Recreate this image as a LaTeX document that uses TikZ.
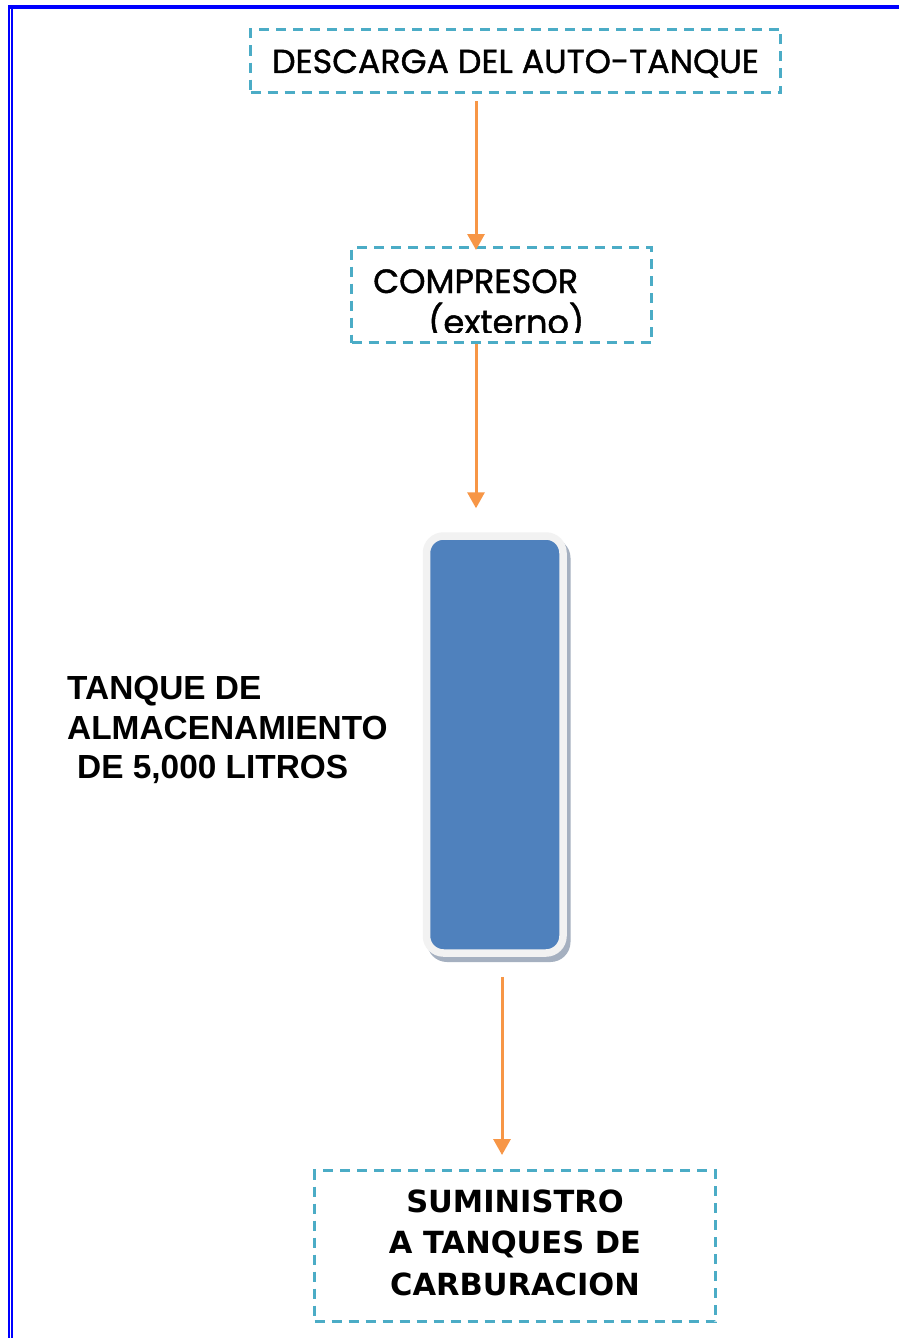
\documentclass[tikz,border=0pt]{standalone}
\usepackage{fontspec}
\usetikzlibrary{arrows.meta}
\newfontfamily\gothic{Poppins}[FakeBold=1.3]
\newfontfamily\arialf{Liberation Sans}
\newfontfamily\verd{DejaVu Sans}
\definecolor{dashc}{RGB}{75,172,198}
\definecolor{arrc}{RGB}{247,150,70}
\definecolor{tankc}{RGB}{79,129,189}
\definecolor{framec}{RGB}{242,242,242}
\definecolor{shadc}{RGB}{165,176,192}
\definecolor{borderc}{RGB}{0,0,255}
\begin{document}
\begin{tikzpicture}[x=1pt,y=-1pt,
  dbox/.style={draw=dashc, line width=3pt, dash pattern=on 10pt off 7pt, inner sep=0pt},
  arr/.style={draw=arrc, line width=3pt, -{Triangle[width=17pt,length=16pt]}},
  txt/.style={inner sep=0pt}]
\useasboundingbox (0,0) rectangle (899,1338);
\fill[white] (0,0) rectangle (899,1338);
% page border
\fill[borderc] (8,5) rectangle (899,9);
\fill[borderc] (8,5) rectangle (10,1338);
\fill[borderc] (11,9) rectangle (13,1338);
% boxes
\node[dbox, minimum width=530pt, minimum height=63pt, text height=24pt, text depth=0pt,
      font=\gothic\fontsize{33.3}{38}\selectfont] (desc) at (515.5,61) {DESCARGA DEL AUTO-TANQUE};
\node[dbox, minimum width=300pt, minimum height=95pt] (comp) at (501.5,295) {};
\begin{scope}
  \clip (330,240) rectangle (670,332.5);
  \node[txt, anchor=base west, font=\gothic\fontsize{33.6}{38}\selectfont] (compa) at (373,293) {COMPRESOR};
  \node[txt, anchor=base west, font=\gothic\fontsize{33.6}{38}\selectfont] (compb) at (428,334) {(externo)};
\end{scope}
% tank
\fill[shadc, rounded corners=20pt] (427,538) rectangle (570.5,962);
\node[draw=framec, fill=tankc, line width=7.5pt, rounded corners=17pt,
      minimum width=136.5pt, minimum height=417pt] (tank) at (494.75,744.5) {};
\node[txt, anchor=north west, align=left, font=\arialf\bfseries\fontsize{33.4}{39.5}\selectfont]
  (tanklbl) at (67,676) {TANQUE DE\\ALMACENAMIENTO\\\hspace*{10pt}DE 5,000 LITROS};
\node[dbox, minimum width=401pt, minimum height=151pt, align=center,
      font=\verd\bfseries\fontsize{30.5}{41.5}\selectfont] (sumi) at (515,1246)
  {SUMINISTRO\\A TANQUES DE\\CARBURACION\rule[-7pt]{0pt}{7pt}};
% connectors
\coordinate (xa) at (476,0);
\coordinate (xb) at (502,0);
\draw[arr, shorten <=7pt, shorten >=-4pt] (desc.south -| xa) -- (comp.north -| xa);
\draw[arr, shorten >=24pt] (comp.south -| xa) -- (tank.north -| xa);
\draw[arr, shorten <=20pt, shorten >=14pt] (tank.south -| xb) -- (sumi.north -| xb);
\end{tikzpicture}
\end{document}
